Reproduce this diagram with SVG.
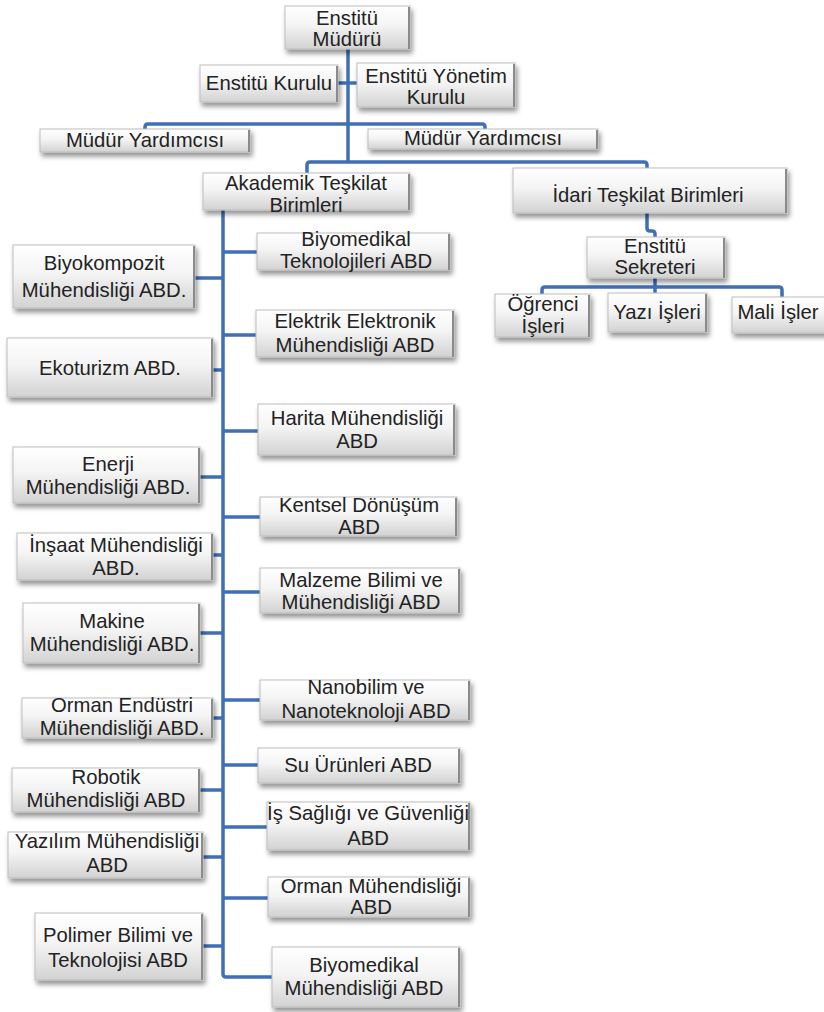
<svg xmlns="http://www.w3.org/2000/svg" width="824" height="1012" viewBox="0 0 824 1012">
<defs>
<linearGradient id="g" x1="0" y1="0" x2="0" y2="1">
<stop offset="0" stop-color="#ffffff"/>
<stop offset="0.45" stop-color="#f4f4f4"/>
<stop offset="1" stop-color="#d2d2d2"/>
</linearGradient>
<filter id="sh" x="-10%" y="-20%" width="125%" height="160%">
<feDropShadow dx="2" dy="4" stdDeviation="2.5" flood-color="#000" flood-opacity="0.42"/>
</filter>
</defs>
<style>
.box{fill:url(#g);stroke:#bdbdbd;stroke-width:1;filter:url(#sh)}
.edge{stroke:#8a8a8a;stroke-width:2}
text{font-family:"Liberation Sans",Arial,sans-serif;font-size:20.3px;fill:#222;text-anchor:middle}
.c{fill:none;stroke:#3f6fb5;stroke-width:3.5;stroke-linejoin:round;stroke-linecap:butt}
</style>
<rect width="824" height="1012" fill="#fff"/>

<g id="connectors">
<path class="c" d="M348,49 V162"/>
<path class="c" d="M338,83 H357"/>
<path class="c" d="M145,129 V127 Q145,124 148,124 H348"/>
<path class="c" d="M348,124 H482 Q485,124 485,127 V129"/>
<path class="c" d="M307,175 V165 Q307,162 310,162 H644 Q647,162 647,165 V168"/>
<path class="c" d="M647,213 V228 Q647,231 650,231 H652 Q655,231 655,234 V237"/>
<path class="c" d="M655,278 V294"/>
<path class="c" d="M542,295 V290 Q542,287 545,287 H779 Q782,287 782,290 V297"/>
<path class="c" d="M223,210 V974 Q223,977 226,977 H272"/>
<path class="c" d="M223,252 H257 M223,335 H256 M223,431 H258 M223,517 H260 M223,592 H260 M223,700 H260 M223,765 H258 M223,827 H267 M223,898 H268"/>
<path class="c" d="M195,278 H223 M213,370 H223 M200,477 H223 M213,555 H223 M200,633 H223 M213,718 H223 M200,790 H223 M203,857 H223 M203,946 H223"/>
</g>

<g id="mudur"><rect class="box" x="285" y="6" width="125" height="43"/><line class="edge" x1="409" y1="7" x2="409" y2="49"/><text><tspan x="347" y="25">Enstitü</tspan><tspan x="347" y="46">Müdürü</tspan></text></g>
<g id="kurulu"><rect class="box" x="200" y="65" width="138" height="37"/><line class="edge" x1="337" y1="66" x2="337" y2="102"/><text x="269" y="90">Enstitü Kurulu</text></g>
<g id="yonetim"><rect class="box" x="357" y="63" width="158" height="44"/><line class="edge" x1="514" y1="64" x2="514" y2="107"/><text><tspan x="436" y="83">Enstitü Yönetim</tspan><tspan x="436" y="104">Kurulu</tspan></text></g>
<g id="yardimci1"><rect class="box" x="40" y="129" width="210" height="23"/><line class="edge" x1="249" y1="130" x2="249" y2="152"/><text x="145" y="147">Müdür Yardımcısı</text></g>
<g id="yardimci2"><rect class="box" x="368" y="129" width="230" height="20"/><line class="edge" x1="597" y1="130" x2="597" y2="149"/><text x="483" y="145">Müdür Yardımcısı</text></g>
<g id="akademik"><rect class="box" x="203" y="173" width="207" height="37"/><line class="edge" x1="409" y1="174" x2="409" y2="210"/><text><tspan x="306" y="190">Akademik Teşkilat</tspan><tspan x="306" y="212">Birimleri</tspan></text></g>
<g id="idari"><rect class="box" x="513" y="168" width="274" height="45"/><line class="edge" x1="786" y1="169" x2="786" y2="213"/><text x="648" y="202">İdari Teşkilat Birimleri</text></g>
<g id="sekreter"><rect class="box" x="587" y="237" width="138" height="41"/><line class="edge" x1="724" y1="238" x2="724" y2="278"/><text><tspan x="655" y="253">Enstitü</tspan><tspan x="655" y="274">Sekreteri</tspan></text></g>
<g id="ogrenci"><rect class="box" x="495" y="294" width="95" height="43"/><line class="edge" x1="589" y1="295" x2="589" y2="337"/><text><tspan x="543" y="311">Öğrenci</tspan><tspan x="543" y="333">İşleri</tspan></text></g>
<g id="yazi"><rect class="box" x="608" y="293" width="99" height="39"/><line class="edge" x1="706" y1="294" x2="706" y2="332"/><text x="657" y="319">Yazı İşleri</text></g>
<g id="mali"><rect class="box" x="732" y="297" width="94" height="36"/><text x="778" y="319">Mali İşler</text></g>

<g id="biyokompozit"><rect class="box" x="13" y="245" width="182" height="63"/><line class="edge" x1="194" y1="246" x2="194" y2="308"/><text><tspan x="104" y="270">Biyokompozit</tspan><tspan x="104" y="297">Mühendisliği ABD.</tspan></text></g>
<g id="ekoturizm"><rect class="box" x="7" y="338" width="206" height="59"/><line class="edge" x1="212" y1="339" x2="212" y2="397"/><text x="110" y="375">Ekoturizm ABD.</text></g>
<g id="enerji"><rect class="box" x="13" y="447" width="187" height="56"/><line class="edge" x1="199" y1="448" x2="199" y2="503"/><text><tspan x="108" y="471">Enerji</tspan><tspan x="108" y="494">Mühendisliği ABD.</tspan></text></g>
<g id="insaat"><rect class="box" x="17" y="533" width="196" height="47"/><line class="edge" x1="212" y1="534" x2="212" y2="580"/><text><tspan x="116" y="552">İnşaat Mühendisliği</tspan><tspan x="116" y="575">ABD.</tspan></text></g>
<g id="makine"><rect class="box" x="23" y="603" width="177" height="60"/><line class="edge" x1="199" y1="604" x2="199" y2="663"/><text><tspan x="112" y="628">Makine</tspan><tspan x="112" y="651">Mühendisliği ABD.</tspan></text></g>
<g id="orman-endustri"><rect class="box" x="22" y="698" width="191" height="40"/><line class="edge" x1="212" y1="699" x2="212" y2="738"/><text><tspan x="122" y="712">Orman Endüstri</tspan><tspan x="122" y="735">Mühendisliği ABD.</tspan></text></g>
<g id="robotik"><rect class="box" x="12" y="768" width="188" height="44"/><line class="edge" x1="199" y1="769" x2="199" y2="812"/><text><tspan x="106" y="784">Robotik</tspan><tspan x="106" y="807">Mühendisliği ABD</tspan></text></g>
<g id="yazilim"><rect class="box" x="8" y="832" width="195" height="46"/><line class="edge" x1="202" y1="833" x2="202" y2="878"/><text><tspan x="107" y="848">Yazılım Mühendisliği</tspan><tspan x="107" y="872">ABD</tspan></text></g>
<g id="polimer"><rect class="box" x="35" y="913" width="168" height="67"/><line class="edge" x1="202" y1="914" x2="202" y2="980"/><text><tspan x="118" y="942">Polimer Bilimi ve</tspan><tspan x="118" y="967">Teknolojisi ABD</tspan></text></g>

<g id="biyomedikal-tek"><rect class="box" x="257" y="233" width="193" height="37"/><line class="edge" x1="449" y1="234" x2="449" y2="270"/><text><tspan x="356" y="246">Biyomedikal</tspan><tspan x="356" y="268">Teknolojileri ABD</tspan></text></g>
<g id="elektrik"><rect class="box" x="256" y="310" width="198" height="47"/><line class="edge" x1="453" y1="311" x2="453" y2="357"/><text><tspan x="355" y="328">Elektrik Elektronik</tspan><tspan x="355" y="352">Mühendisliği ABD</tspan></text></g>
<g id="harita"><rect class="box" x="258" y="404" width="197" height="51"/><line class="edge" x1="454" y1="405" x2="454" y2="455"/><text><tspan x="357" y="425">Harita Mühendisliği</tspan><tspan x="357" y="448">ABD</tspan></text></g>
<g id="kentsel"><rect class="box" x="260" y="497" width="197" height="39"/><line class="edge" x1="456" y1="498" x2="456" y2="536"/><text><tspan x="359" y="512">Kentsel Dönüşüm</tspan><tspan x="359" y="534">ABD</tspan></text></g>
<g id="malzeme"><rect class="box" x="260" y="568" width="200" height="45"/><line class="edge" x1="459" y1="569" x2="459" y2="613"/><text><tspan x="361" y="587">Malzeme Bilimi ve</tspan><tspan x="361" y="609">Mühendisliği ABD</tspan></text></g>
<g id="nanobilim"><rect class="box" x="260" y="680" width="210" height="40"/><line class="edge" x1="469" y1="681" x2="469" y2="720"/><text><tspan x="366" y="694">Nanobilim ve</tspan><tspan x="366" y="718">Nanoteknoloji ABD</tspan></text></g>
<g id="su-urunleri"><rect class="box" x="258" y="748" width="202" height="35"/><line class="edge" x1="459" y1="749" x2="459" y2="783"/><text x="358" y="772">Su Ürünleri ABD</text></g>
<g id="is-sagligi"><rect class="box" x="267" y="802" width="203" height="48"/><line class="edge" x1="469" y1="803" x2="469" y2="850"/><text><tspan x="368" y="820">İş Sağlığı ve Güvenliği</tspan><tspan x="368" y="845">ABD</tspan></text></g>
<g id="orman"><rect class="box" x="268" y="877" width="202" height="40"/><line class="edge" x1="469" y1="878" x2="469" y2="917"/><text><tspan x="371" y="893">Orman Mühendisliği</tspan><tspan x="371" y="914">ABD</tspan></text></g>
<g id="biyomedikal-muh"><rect class="box" x="272" y="947" width="188" height="60"/><line class="edge" x1="459" y1="948" x2="459" y2="1007"/><text><tspan x="364" y="972">Biyomedikal</tspan><tspan x="364" y="995">Mühendisliği ABD</tspan></text></g>
</svg>
